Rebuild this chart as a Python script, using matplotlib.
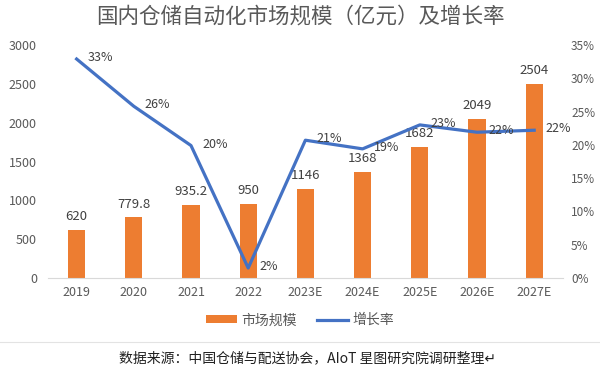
import matplotlib.pyplot as plt
from matplotlib.lines import Line2D

plt.rcParams['font.family'] = ['Noto Sans CJK SC', 'DejaVu Sans']

years = ["2019", "2020", "2021", "2022", "2023E", "2024E", "2025E", "2026E", "2027E"]
market = [620, 779.8, 935.2, 950, 1146, 1368, 1682, 2049, 2504]
market_labels = ["620", "779.8", "935.2", "950", "1146", "1368", "1682", "2049", "2504"]
growth = [32.9, 25.8, 19.9, 1.5, 20.7, 19.4, 23.0, 21.9, 22.2]
growth_labels = ["33%", "26%", "20%", "2%", "21%", "19%", "23%", "22%", "22%"]

orange = "#ED7D31"
blue = "#4472C4"
txt = "#595959"

fig = plt.figure(figsize=(6, 3.66), dpi=100)
ax = fig.add_axes([0.08, 0.2404, 0.858, 0.6366])
ax2 = ax.twinx()

x = list(range(len(years)))
bars = ax.bar(x, market, width=0.3, color=orange, label="市场规模", zorder=2)
ax.set_ylim(0, 3000)
ax.set_yticks(range(0, 3001, 500))
ax.set_xlim(-0.5, len(years) - 0.5)
ax.set_xticks(x)
ax.set_xticklabels(years)

for xi, v, lab in zip(x, market, market_labels):
    ax.annotate(lab, (xi, v), xytext=(0, 5), textcoords="offset points",
                ha="center", va="bottom", fontsize=9.5, color="#404040")

line, = ax2.plot(x, growth, color=blue, lw=2.3, label="增长率", zorder=3)
ax2.set_ylim(0, 35)
ax2.set_yticks(range(0, 36, 5))
ax2.set_yticklabels([f"{t}%" for t in range(0, 36, 5)])
for xi, g, lab in zip(x, growth, growth_labels):
    ax2.annotate(lab, (xi, g), xytext=(8, 1), textcoords="offset points",
                 ha="left", va="center", fontsize=9, color="#404040")

for a in (ax, ax2):
    for s in a.spines.values():
        s.set_visible(False)
    a.tick_params(length=0, labelsize=9, colors=txt)
ax.spines["bottom"].set_visible(True)
ax.spines["bottom"].set_color("#d9d9d9")
ax.tick_params(axis="x", pad=6)
ax.tick_params(axis="y", pad=8)
ax2.tick_params(axis="y", pad=6, labelsize=8.5)

fig.text(0.5, 0.955, "国内仓储自动化市场规模（亿元）及增长率", ha="center", va="center",
         fontsize=15.5, color=txt)

fig.legend(handles=[bars, line], labels=["市场规模", "增长率"], loc="center",
           bbox_to_anchor=(0.5, 0.125), ncol=2, frameon=False, fontsize=10,
           handlelength=2.2, handleheight=0.5, columnspacing=1.5, handletextpad=0.3,
           labelcolor=txt)

fig.add_artist(Line2D([0.0, 1.0], [0.066, 0.066], color="#e3e3e3", lw=0.8))
fig.text(0.513, 0.022, "数据来源：中国仓储与配送协会，AIoT 星图研究院调研整理↵", ha="center",
         va="center", fontsize=10, color="#202020")

fig.savefig("out.png", dpi=100)
